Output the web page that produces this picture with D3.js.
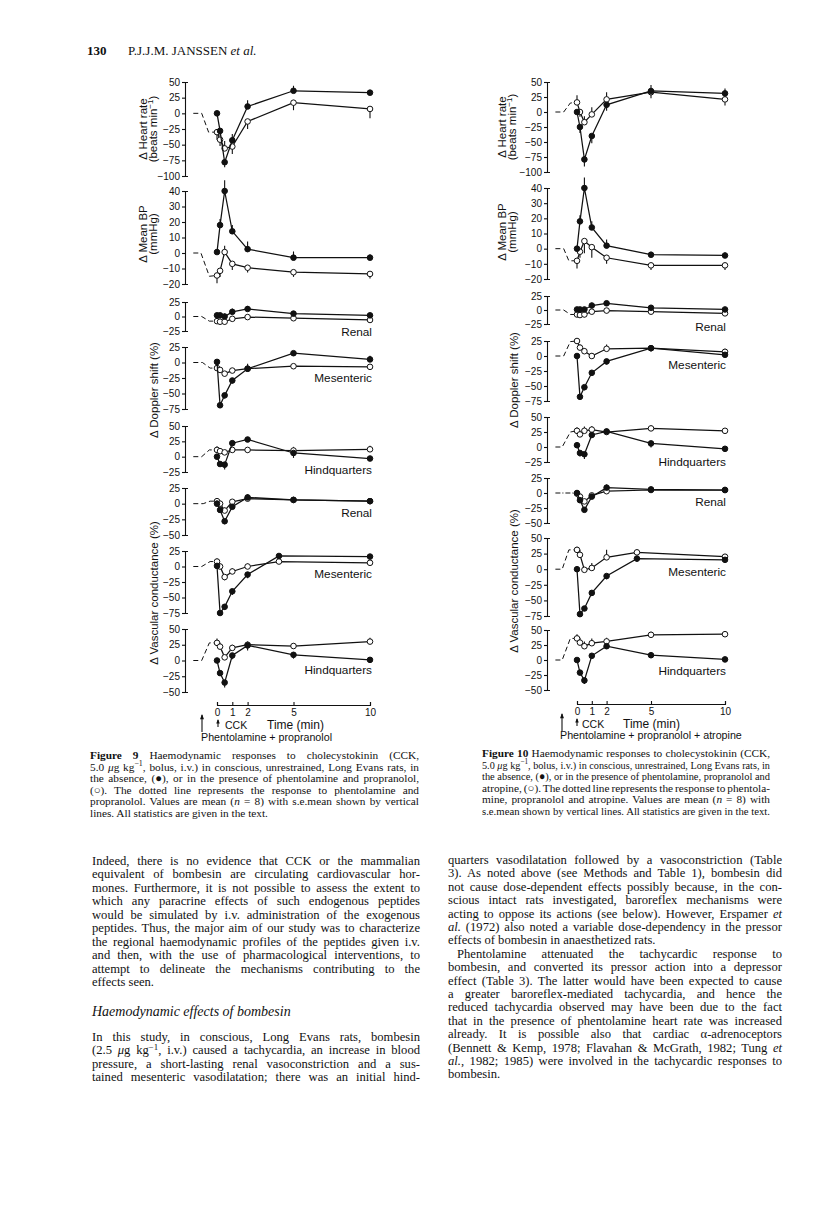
<!DOCTYPE html>
<html>
<head>
<meta charset="utf-8">
<script src="https://cdn.jsdelivr.net/npm/d3@7"></script>
<style>
  body { margin: 0; background: #fff; }
  svg text { fill: #111; }
</style>
</head>
<body>
<svg id="page" width="816" height="1210"></svg>
<script>
// -----------------------------
// data
// cck = CCK alone (filled), blk = with blockade (open), sem: + up / - down
// pre = dotted response to the blocking drugs, [time, value]
// -----------------------------

const times = [0, 0.2, 0.5, 1, 2, 5, 10]
const timesVm9 = [0, 0.2, 0.5, 1, 2, 4.05, 10]
const timesVm10 = [0, 0.2, 0.5, 1, 2, 4.05, 10]
const timeTicks = [0, 1, 2, 5, 10]

// Figure 9 : phentolamine + propranolol
const f9HrCck = [0, -28, -78, -43, 11, 36, 33]
const f9HrCckSem = [0, -8, -8, 10, 10, 8, 4]
const f9HrBlk = [-30, -42, -56, -53, -13, 17, 7]
const f9HrBlkSem = [-12, -10, 12, -12, -12, -12, -15]
const f9HrPre = [[-1.55, 0], [-1.0, 0], [-0.55, -30], [0, -30]]

const f9BpCck = [0.6, 18, 40, 14, 2.5, -3, -3]
const f9BpCckSem = [0, 4, 7, 4, 5, 4, 2]
const f9BpBlk = [-14.5, -11.5, 0.6, -7, -9.5, -12.4, -13.5]
const f9BpBlkSem = [-5, -4, 4, -4, -3, -3, -3]
const f9BpPre = [[-1.55, 0], [-1.05, 0], [-0.5, -15], [0, -14.5]]

const f9DrCck = [2, 2, 0, 8, 13, 5, 2]
const f9DrCckSem = [0, 0, 5, 6, 5, 4, 3]
const f9DrBlk = [-8, -9, -9, -4, -1, -3, -6]
const f9DrBlkSem = [-5, -5, -5, 4, 4, -3, -3]
const f9DrPre = [[-1.55, 0], [-1.0, 0], [-0.5, -8], [0, -8]]

const f9DmCck = [1, -69, -53, -29, -10, 15, 5]
const f9DmCckSem = [0, -4, -5, -5, 8, 3, 6]
const f9DmBlk = [-9, -12, -18, -13, -10, -6, -7]
const f9DmBlkSem = [-4, -4, -4, 0, 0, -4, -3]
const f9DmPre = [[-1.55, 0], [-0.95, 0], [-0.45, -9], [0, -9]]

const f9DhCck = [0, -12, -13, 22, 28, 6, -3]
const f9DhCckSem = [0, -4, -8, -5, -4, -8, -4]
const f9DhBlk = [11, 9, 7, 11, 11, 10, 12]
const f9DhBlkSem = [6, 5, 4, 0, -5, 6, 6]
const f9DhPre = [[-1.55, 0], [-1.0, 0], [-0.5, 11], [0, 11]]

const f9VrCck = [0, -10, -28, -5, 10, 6, 4]
const f9VrCckSem = [5, -4, -5, -4, 5, 4, 3]
const f9VrBlk = [4, 0, -11, 3, 8, 6, 4]
const f9VrBlkSem = [5, 5, 5, 3, 3, 0, 0]
const f9VrPre = [[-1.55, 0], [-0.9, 0], [-0.45, 4], [0, 4]]

const f9VmCck = [1, -75, -65, -40, -13, 17, 16]
const f9VmCckSem = [0, -4, -5, -6, -6, 4, 3]
const f9VmBlk = [8, 0, -17, -8, 0, 8, 6]
const f9VmBlkSem = [5, 5, -5, 5, 5, 3, 2]
const f9VmPre = [[-1.55, 0], [-1.0, 0], [-0.45, 8], [0, 8]]

const f9VhCck = [0, -20, -35, 8, 24, 9, 1]
const f9VhCckSem = [0, -4, -8, -6, -8, -6, -3]
const f9VhBlk = [28, 22, 5, 20, 25, 23, 30]
const f9VhBlkSem = [7, 6, 0, 5, 5, 4, 6]
const f9VhPre = [[-1.55, 0], [-1.0, 0], [-0.5, 28], [0, 28]]

// Figure 10 : phentolamine + propranolol + atropine
const f10HrCck = [0, -25, -79, -40, 12, 35, 31]
const f10HrCckSem = [0, -10, -12, -12, -10, 10, 8]
const f10HrBlk = [16, 0, -17, -4, 21, 33, 21]
const f10HrBlkSem = [12, -8, 10, 12, 12, -10, -10]
const f10HrPre = [[-1.46, 0], [-0.9, 0], [-0.45, 15], [0, 16]]

const f10BpCck = [0, 18, 40, 14, 2, -4, -4.5]
const f10BpCckSem = [0, 4, 7, 4, 4, 2, 2]
const f10BpBlk = [-8, -2, 5, 1, -6, -11, -11]
const f10BpBlkSem = [-5, -4, -8, -7, -4, -3, -3]
const f10BpPre = [[-1.46, 0], [-0.9, 0], [-0.55, -8], [0, -8]]

const f10DrCck = [1, 1, 1, 8, 12, 4, 1]
const f10DrCckSem = [0, 0, 0, 5, 4, 3, 3]
const f10DrBlk = [-8, -9, -8, -3, -1, -3, -6]
const f10DrBlkSem = [-5, -5, -5, -4, -5, 0, 0]
const f10DrPre = [[-1.46, 0], [-0.9, 0], [-0.45, -8], [0, -8]]

const f10DmCck = [0, -68, -52, -28, -9, 13, 2]
const f10DmCckSem = [0, -5, -5, -5, -5, 5, -3]
const f10DmBlk = [25, 14, 8, 0, 12, 13, 7]
const f10DmBlkSem = [0, 5, 5, 5, 7, 0, 5]
const f10DmPre = [[-1.46, 0], [-0.9, 0], [-0.45, 24], [0, 25]]

const f10DhCck = [3, -10, -12, 20, 26, 6, -3]
const f10DhCckSem = [0, -6, -8, -4, 4, -7, -5]
const f10DhBlk = [27, 21, 27, 29, 25, 31, 27]
const f10DhBlkSem = [6, 6, 7, 6, 0, 5, 0]
const f10DhPre = [[-1.46, 0], [-1.0, 0], [-0.45, 25], [0, 27]]

const f10VrCck = [0, -12, -28, -6, 9, 6, 5]
const f10VrCckSem = [5, 0, -4, 0, 5, 0, 3]
const f10VrBlk = [-1, -6, -14, -4, 3, 5, 5]
const f10VrBlkSem = [0, 0, 0, 0, 0, 0, 0]
const f10VrPre = [[-1.46, 0], [-0.2, 0], [0, -1]]

const f10VmCck = [0, -72, -63, -38, -11, 17, 15]
const f10VmCckSem = [0, -4, -4, -5, -5, -5, -3]
const f10VmBlk = [31, 23, -1, 2, 19, 27, 20]
const f10VmBlkSem = [5, 8, 0, 8, 12, 5, 4]
const f10VmPre = [[-1.46, 0], [-1.0, 0], [-0.55, 31], [0, 31]]

const f10VhCck = [0, -21, -34, 7, 23, 8, 1]
const f10VhCckSem = [0, -4, -6, -4, 0, -4, -3]
const f10VhBlk = [36, 29, 23, 28, 31, 42, 43]
const f10VhBlkSem = [7, 8, 8, 8, 6, 5, 5]
const f10VhPre = [[-1.46, 0], [-1.0, 0], [-0.45, 36], [0, 36]]

// -----------------------------
// text of the page
// *bold*  _italic_  ^superscript^  ¶ = paragraph end  > = indent
// -----------------------------

const caption9 = [
    '*Figure 9* Haemodynamic responses to cholecystokinin (CCK,',
    '5.0 _μ_g kg^−1^, bolus, i.v.) in conscious, unrestrained, Long Evans rats, in',
    'the absence, (●), or in the presence of phentolamine and propranolol,',
    '(○). The dotted line represents the response to phentolamine and',
    'propranolol. Values are mean (_n_ = 8) with s.e.mean shown by vertical',
    'lines. All statistics are given in the text.¶'
]

const caption10 = [
    '*Figure 10* Haemodynamic responses to cholecystokinin (CCK,',
    '5.0 _μ_g kg^−1^, bolus, i.v.) in conscious, unrestrained, Long Evans rats, in',
    'the absence, (●), or in the presence of phentolamine, propranolol and',
    'atropine, (○). The dotted line represents the response to phentola-',
    'mine, propranolol and atropine. Values are mean (_n_ = 8) with',
    's.e.mean shown by vertical lines. All statistics are given in the text.'
]

const bodyLeft = [
    'Indeed, there is no evidence that CCK or the mammalian',
    'equivalent of bombesin are circulating cardiovascular hor-',
    'mones. Furthermore, it is not possible to assess the extent to',
    'which any paracrine effects of such endogenous peptides',
    'would be simulated by i.v. administration of the exogenous',
    'peptides. Thus, the major aim of our study was to characterize',
    'the regional haemodynamic profiles of the peptides given i.v.',
    'and then, with the use of pharmacological interventions, to',
    'attempt to delineate the mechanisms contributing to the',
    'effects seen.¶'
]

const bodyLeft2 = [
    'In this study, in conscious, Long Evans rats, bombesin',
    '(2.5 _μ_g kg^−1^, i.v.) caused a tachycardia, an increase in blood',
    'pressure, a short-lasting renal vasoconstriction and a sus-',
    'tained mesenteric vasodilatation; there was an initial hind-'
]

const bodyRight = [
    'quarters vasodilatation followed by a vasoconstriction (Table',
    '3). As noted above (see Methods and Table 1), bombesin did',
    'not cause dose-dependent effects possibly because, in the con-',
    'scious intact rats investigated, baroreflex mechanisms were',
    'acting to oppose its actions (see below). However, Erspamer _et_',
    '_al._ (1972) also noted a variable dose-dependency in the pressor',
    'effects of bombesin in anaesthetized rats.¶',
    '>Phentolamine attenuated the tachycardic response to',
    'bombesin, and converted its pressor action into a depressor',
    'effect (Table 3). The latter would have been expected to cause',
    'a greater baroreflex-mediated tachycardia, and hence the',
    'reduced tachycardia observed may have been due to the fact',
    'that in the presence of phentolamine heart rate was increased',
    'already. It is possible also that cardiac α-adrenoceptors',
    '(Bennett & Kemp, 1978; Flavahan & McGrath, 1982; Tung _et_',
    '_al._, 1982; 1985) were involved in the tachycardic responses to',
    'bombesin.¶'
]

// -----------------------------
// layout
// -----------------------------

const SANS = 'Liberation Sans, Arial, sans-serif'
const SERIF = 'Liberation Serif, Times New Roman, serif'

const fig9 = {
    axisX: 185, t0: 217, t10: 370, timeY: 705, labelX: 372,
    panels: [
        {domain: [-100, 50], step: 25, range: [176, 82], cck: f9HrCck, cckSem: f9HrCckSem, blk: f9HrBlk, blkSem: f9HrBlkSem, pre: f9HrPre},
        {domain: [-20, 40], step: 10, range: [284, 191], cck: f9BpCck, cckSem: f9BpCckSem, blk: f9BpBlk, blkSem: f9BpBlkSem, pre: f9BpPre},
        {domain: [-25, 25], step: 25, range: [331, 302], cck: f9DrCck, cckSem: f9DrCckSem, blk: f9DrBlk, blkSem: f9DrBlkSem, pre: f9DrPre, label: 'Renal', labelY: 336},
        {domain: [-75, 25], step: 25, range: [409, 347], cck: f9DmCck, cckSem: f9DmCckSem, blk: f9DmBlk, blkSem: f9DmBlkSem, pre: f9DmPre, label: 'Mesenteric', labelY: 382},
        {domain: [-25, 50], step: 25, range: [472, 426], cck: f9DhCck, cckSem: f9DhCckSem, blk: f9DhBlk, blkSem: f9DhBlkSem, pre: f9DhPre, label: 'Hindquarters', labelY: 474},
        {domain: [-50, 25], step: 25, range: [535, 488], cck: f9VrCck, cckSem: f9VrCckSem, blk: f9VrBlk, blkSem: f9VrBlkSem, pre: f9VrPre, label: 'Renal', labelY: 517},
        {domain: [-75, 25], step: 25, range: [613, 551], cck: f9VmCck, cckSem: f9VmCckSem, blk: f9VmBlk, blkSem: f9VmBlkSem, pre: f9VmPre, label: 'Mesenteric', labelY: 578, times: timesVm9},
        {domain: [-50, 50], step: 25, range: [692, 629], cck: f9VhCck, cckSem: f9VhCckSem, blk: f9VhBlk, blkSem: f9VhBlkSem, pre: f9VhPre, label: 'Hindquarters', labelY: 674}
    ],
    titles: [
        {lines: ['Δ Heart rate', '(beats min^−1^)'], x: [147, 157], y: 129},
        {lines: ['Δ Mean BP', '(mmHg)'], x: [147, 157], y: 234},
        {lines: ['Δ Doppler shift (%)'], x: [158], y: 390},
        {lines: ['Δ Vascular conductance (%)'], x: [158], y: 593}
    ],
    bigArrow: 202, smallArrow: 218, cckX: 225, timeLabelX: 267, textY: 729,
    drugs: 'Phentolamine + propranolol', drugsX: 201, drugsY: 741
}

const fig10 = {
    axisX: 547, t0: 577, t10: 725, timeY: 704, labelX: 726,
    panels: [
        {domain: [-100, 50], step: 25, range: [172, 82], cck: f10HrCck, cckSem: f10HrCckSem, blk: f10HrBlk, blkSem: f10HrBlkSem, pre: f10HrPre},
        {domain: [-20, 40], step: 10, range: [279, 188], cck: f10BpCck, cckSem: f10BpCckSem, blk: f10BpBlk, blkSem: f10BpBlkSem, pre: f10BpPre},
        {domain: [-25, 25], step: 25, range: [324, 296], cck: f10DrCck, cckSem: f10DrCckSem, blk: f10DrBlk, blkSem: f10DrBlkSem, pre: f10DrPre, label: 'Renal', labelY: 331},
        {domain: [-75, 25], step: 25, range: [401, 341], cck: f10DmCck, cckSem: f10DmCckSem, blk: f10DmBlk, blkSem: f10DmBlkSem, pre: f10DmPre, label: 'Mesenteric', labelY: 369},
        {domain: [-25, 50], step: 25, range: [462, 417], cck: f10DhCck, cckSem: f10DhCckSem, blk: f10DhBlk, blkSem: f10DhBlkSem, pre: f10DhPre, label: 'Hindquarters', labelY: 466},
        {domain: [-50, 25], step: 25, range: [523, 478], cck: f10VrCck, cckSem: f10VrCckSem, blk: f10VrBlk, blkSem: f10VrBlkSem, pre: f10VrPre, label: 'Renal', labelY: 506, dashDot: true},
        {domain: [-75, 50], step: 25, range: [616, 538], cck: f10VmCck, cckSem: f10VmCckSem, blk: f10VmBlk, blkSem: f10VmBlkSem, pre: f10VmPre, label: 'Mesenteric', labelY: 576, times: timesVm10},
        {domain: [-50, 50], step: 25, range: [690, 630], cck: f10VhCck, cckSem: f10VhCckSem, blk: f10VhBlk, blkSem: f10VhBlkSem, pre: f10VhPre, label: 'Hindquarters', labelY: 675}
    ],
    titles: [
        {lines: ['Δ Heart rate', '(beats min^−1^)'], x: [506, 516], y: 127},
        {lines: ['Δ Mean BP', '(mmHg)'], x: [506, 516], y: 232},
        {lines: ['Δ Doppler shift (%)'], x: [518], y: 380},
        {lines: ['Δ Vascular conductance (%)'], x: [518], y: 581}
    ],
    bigArrow: 562, smallArrow: 577, cckX: 582, timeLabelX: 623, textY: 728,
    drugs: 'Phentolamine + propranolol + atropine', drugsX: 560, drugsY: 739
}

// -----------------------------
// helpers
// -----------------------------

const svg = d3.select('#page')
svg.append('rect').attr('width', 816).attr('height', 1210).attr('fill', '#fff')

// writes marked-up text into a <text> element as tspans
function fillText(t, str, size) {
    const parts = str.split(/(\*[^*]+\*|_[^_]+_|\^[^^]+\^)/).filter(s => s.length)
    let back = 0
    parts.forEach(s => {
        const sp = t.append('tspan')
        if (back) { sp.attr('dy', back); back = 0 }
        if (s[0] === '*') {
            sp.attr('font-weight', 'bold').text(s.slice(1, -1))
        } else if (s[0] === '_' && s.length > 2) {
            sp.attr('font-style', 'italic').text(s.slice(1, -1))
        } else if (s[0] === '^') {
            const shift = size * 0.38
            sp.attr('dy', -shift).attr('font-size', size * 0.7).text(s.slice(1, -1))
            back = shift
        } else {
            sp.text(s)
        }
    })
}

function textBlock(lines, x0, y0, width, lead, size, family) {
    lines.forEach((raw, i) => {
        let str = raw
        let x = x0
        let w = width
        let justify = true
        if (str.endsWith('¶')) { str = str.slice(0, -1); justify = false }
        if (str.startsWith('>')) { str = str.slice(1); x += 9; w -= 9 }
        const t = svg.append('text')
            .attr('x', x)
            .attr('y', y0 + i * lead)
            .attr('font-size', size)
            .attr('font-family', family)
            .attr('xml:space', 'preserve')
        fillText(t, str, size)
        const natural = t.node().getComputedTextLength()
        const spaces = (str.match(/ /g) || []).length
        if (justify && spaces) {
            const ws = (w - natural) / spaces
            if (ws < -1.0) {
                t.attr('textLength', w).attr('lengthAdjust', 'spacingAndGlyphs')
            } else {
                t.attr('word-spacing', ws)
            }
        } else if (natural > w) {
            t.attr('textLength', w).attr('lengthAdjust', 'spacingAndGlyphs')
        }
    })
}

function arrow(x, yTop, yBottom, head) {
    svg.append('line')
        .attr('x1', x).attr('x2', x)
        .attr('y1', yTop + 1).attr('y2', yBottom)
        .attr('stroke', '#111').attr('stroke-width', 1.1)
    svg.append('path')
        .attr('d', `M${x - head / 2},${yTop + head * 1.3}L${x},${yTop}L${x + head / 2},${yTop + head * 1.3}Z`)
        .attr('fill', '#111')
}

// -----------------------------
// figures
// -----------------------------

function drawFigure(f) {
    const g = svg.append('g')
    const x = d3.scaleLinear().domain([0, 10]).range([f.t0, f.t10])

    f.panels.forEach(p => {
        const y = d3.scaleLinear().domain(p.domain).range(p.range)
        const ts = p.times || times

        const axis = d3.axisLeft(y)
            .tickValues(d3.range(p.domain[0], p.domain[1] + 1, p.step))
            .tickSize(3)
            .tickSizeOuter(-3)
            .tickPadding(2)

        g.append('g')
            .attr('class', 'axis')
            .attr('transform', 'translate(' + f.axisX + ',0)')
            .call(axis)

        // dotted response to the blocking drugs
        g.append('path')
            .datum(p.pre)
            .attr('fill', 'none')
            .attr('stroke', '#111')
            .attr('stroke-width', 1)
            .attr('stroke-dasharray', p.dashDot ? '5,2,1,2' : '5,3')
            .attr('d', d3.line().x(d => x(d[0])).y(d => y(d[1])))

        const series = [
            {vals: p.blk, sem: p.blkSem, open: true},
            {vals: p.cck, sem: p.cckSem, open: false}
        ]

        series.forEach(s => {
            const pts = s.vals.map((v, i) => ({t: ts[i], v: v, e: s.sem[i]}))

            g.append('path')
                .datum(pts)
                .attr('fill', 'none')
                .attr('stroke', '#111')
                .attr('stroke-width', 1.25)
                .attr('d', d3.line().x(d => x(d.t)).y(d => y(d.v)))

            g.selectAll(null)
                .data(pts.filter(d => d.e !== 0))
                .enter()
                .append('line')
                .attr('x1', d => x(d.t))
                .attr('x2', d => x(d.t))
                .attr('y1', d => y(d.v))
                .attr('y2', d => y(d.v + d.e))
                .attr('stroke', '#111')
                .attr('stroke-width', 1.1)

            g.selectAll(null)
                .data(pts)
                .enter()
                .append('circle')
                .attr('cx', d => x(d.t))
                .attr('cy', d => y(d.v))
                .attr('r', 2.8)
                .attr('fill', s.open ? '#fff' : '#111')
                .attr('stroke', '#111')
                .attr('stroke-width', 1)
        })

        if (p.label) {
            g.append('text')
                .attr('x', f.labelX)
                .attr('y', p.labelY)
                .attr('text-anchor', 'end')
                .attr('font-size', 11.8)
                .attr('font-family', SANS)
                .text(p.label)
        }
    })

    // time axis
    const tAxis = d3.axisBottom(x)
        .tickValues(timeTicks)
        .tickFormat(d3.format('d'))
        .tickSize(-3)
        .tickSizeOuter(-3)
        .tickPadding(4)

    g.append('g')
        .attr('class', 'axis')
        .attr('transform', 'translate(0,' + f.timeY + ')')
        .call(tAxis)

    g.selectAll('.axis text')
        .attr('font-size', 10)
        .attr('font-family', SANS)
        .attr('fill', '#111')
    g.selectAll('.axis path, .axis line')
        .attr('stroke', '#111')
        .attr('stroke-width', 1.1)
    g.selectAll('.axis').attr('font-family', null).attr('font-size', null)

    // axis titles
    f.titles.forEach(tt => {
        tt.lines.forEach((ln, i) => {
            const t = g.append('text')
                .attr('transform', 'translate(' + tt.x[i] + ',' + tt.y + ') rotate(-90)')
                .attr('text-anchor', 'middle')
                .attr('font-size', 11.5)
                .attr('font-family', SANS)
            fillText(t, ln, 11.5)
        })
    })

    // injection arrows and labels
    arrow(f.bigArrow, f.textY - 15, f.textY + 3, 4)
    arrow(f.smallArrow, f.textY - 10, f.textY - 2, 3.5)

    g.append('text')
        .attr('x', f.cckX).attr('y', f.textY)
        .attr('font-size', 10.5).attr('font-family', SANS)
        .text('CCK')
    g.append('text')
        .attr('x', f.timeLabelX).attr('y', f.textY)
        .attr('font-size', 12).attr('font-family', SANS)
        .text('Time (min)')
    g.append('text')
        .attr('x', f.drugsX).attr('y', f.drugsY)
        .attr('font-size', 10.7).attr('font-family', SANS)
        .text(f.drugs)
}

drawFigure(fig9)
drawFigure(fig10)

// -----------------------------
// running head, captions, body text
// -----------------------------

const head = svg.append('text').attr('x', 87).attr('y', 55).attr('font-size', 13).attr('font-family', SERIF)
fillText(head, '*130*', 13)
const head2 = svg.append('text').attr('x', 128).attr('y', 55).attr('font-size', 13).attr('font-family', SERIF)
fillText(head2, 'P.J.J.M. JANSSEN _et al._', 13)

textBlock(caption9, 90, 759, 329, 11.6, 11.3, SERIF)
textBlock(caption10, 482, 757, 288, 11.6, 11.3, SERIF)

textBlock(bodyLeft, 92, 865, 328, 13.45, 12.6, SERIF)
const h = svg.append('text').attr('x', 92).attr('y', 1016).attr('font-size', 14).attr('font-family', SERIF)
fillText(h, '_Haemodynamic effects of bombesin_', 14)
textBlock(bodyLeft2, 92, 1041, 328, 13.45, 12.6, SERIF)

textBlock(bodyRight, 448, 864, 334, 13.4, 12.6, SERIF)
</script>
</body>
</html>
